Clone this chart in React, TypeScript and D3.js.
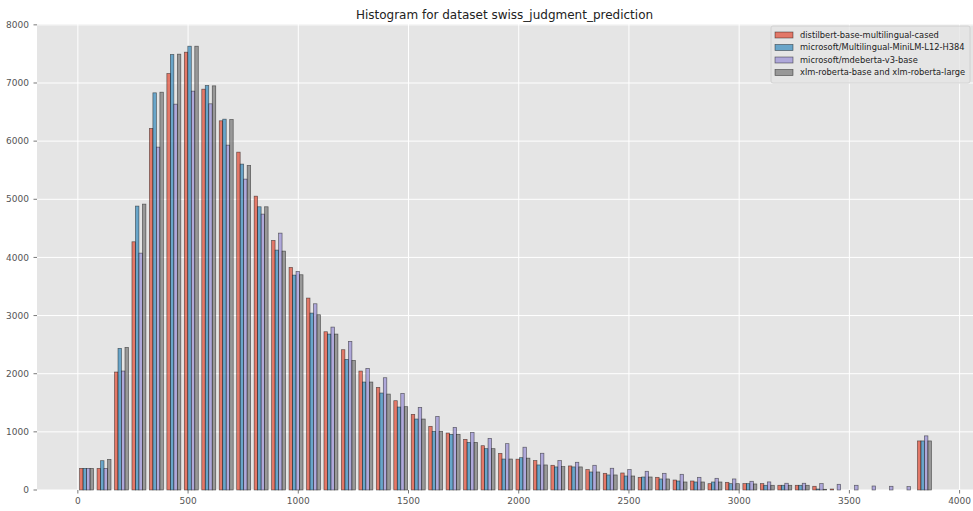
import React from 'react';
import * as d3 from 'd3';

// histogram counts per bin (49 bins over 0..3880 tokens)
const binMin = 0;
const binMax = 3880;
const nBins = 49;

const seriesNames = [
  'distilbert-base-multilingual-cased',
  'microsoft/Multilingual-MiniLM-L12-H384',
  'microsoft/mdeberta-v3-base',
  'xlm-roberta-base and xlm-roberta-large',
];
const seriesColors = ['#E24A33', '#348ABD', '#988ED5', '#777777'];

const distilbert = [
  372, 372, 2029, 4269, 6218, 7163, 7530, 6894, 6350, 5811, 5054, 4292, 3828, 3301, 2722, 2413,
  2046, 1765, 1536, 1301, 1095, 980, 871, 762, 630, 530, 506, 425, 414, 351, 287, 293, 218, 218,
  172, 155, 109, 132, 110, 110, 81, 81, 64, 17, 0, 0, 0, 0, 844,
];
const miniLM = [
  372, 504, 2436, 4883, 6831, 7490, 7633, 6957, 6378, 5605, 4871, 4126, 3696, 3043, 2682, 2246,
  1857, 1668, 1427, 1221, 1009, 957, 819, 711, 533, 556, 431, 397, 397, 310, 259, 241, 224, 190,
  155, 138, 138, 109, 109, 81, 81, 81, 17, 0, 0, 0, 0, 0, 844,
];
const mdeberta = [
  372, 372, 2046, 4074, 5897, 6636, 6860, 6642, 5931, 5347, 4745, 4418, 3759, 3203, 2802, 2556,
  2092, 1931, 1662, 1421, 1266, 1077, 991, 888, 797, 736, 632, 506, 477, 425, 374, 351, 322, 287,
  270, 218, 201, 190, 150, 139, 116, 116, 110, 98, 81, 69, 64, 58, 931,
];
const xlmRoberta = [
  372, 527, 2453, 4917, 6842, 7496, 7633, 6951, 6372, 5582, 4871, 4109, 3702, 3014, 2682, 2229,
  1857, 1650, 1433, 1221, 1009, 957, 819, 711, 533, 548, 431, 402, 397, 310, 259, 241, 224, 190,
  138, 138, 138, 109, 104, 81, 81, 81, 12, 0, 0, 0, 0, 0, 844,
];
const allSeries = [distilbert, miniLM, mdeberta, xlmRoberta];

const xTicks = [0, 500, 1000, 1500, 2000, 2500, 3000, 3500, 4000];
const yTicks = [0, 1000, 2000, 3000, 4000, 5000, 6000, 7000, 8000];

const W = 973;
const H = 511;
const left = 37;
const right = 974;
const top = 24;
const bottom = 490;
const font = 'DejaVu Sans, sans-serif';

export default function App() {
  const bw = (binMax - binMin) / nBins;
  const barW = (0.8 * bw) / allSeries.length;
  const lo = binMin + 0.1 * bw;
  const hi = binMax - 0.1 * bw;
  const pad = 0.05 * (hi - lo);
  const x = d3.scaleLinear().domain([lo - pad, hi + pad]).range([left, right]);
  const yMax = (d3.max(allSeries.flat()) as number) * 1.05;
  const y = d3.scaleLinear().domain([0, yMax]).range([bottom, top]);

  return (
    <svg width={W} height={H} style={{ position: 'absolute', left: 0, top: 0 }} fontFamily={font}>
      <rect x={0} y={0} width={W} height={H} fill="#fff" />
      <rect x={left} y={top} width={right - left} height={bottom - top} fill="#E5E5E5" />
      {/* grid */}
      {xTicks.map((t) => (
        <line key={'gx' + t} x1={x(t)} x2={x(t)} y1={top} y2={bottom} stroke="#fff" strokeWidth={1} />
      ))}
      {yTicks.map((t) => (
        <line key={'gy' + t} x1={left} x2={right} y1={y(t)} y2={y(t)} stroke="#fff" strokeWidth={1} />
      ))}
      {/* bars */}
      {allSeries.map((s, si) => (
        <g key={'s' + si}>
          {s.map((v, i) => {
            if (v <= 0) return null;
            const x0 = binMin + i * bw + 0.1 * bw + si * barW;
            return (
              <rect
                key={i}
                x={x(x0)}
                y={y(v)}
                width={x(x0 + barW) - x(x0)}
                height={y(0) - y(v)}
                fill={seriesColors[si]}
                fillOpacity={0.7}
                stroke="#000"
                strokeOpacity={0.55}
                strokeWidth={0.7}
              />
            );
          })}
        </g>
      ))}
      {/* axes ticks */}
      {xTicks.map((t) => (
        <g key={'xt' + t}>
          <line x1={x(t)} x2={x(t)} y1={bottom} y2={bottom + 3.5} stroke="#555" strokeWidth={0.8} />
          <text x={x(t)} y={bottom + 13.5} fontSize={9} fill="#555" textAnchor="middle">
            {t}
          </text>
        </g>
      ))}
      {yTicks.map((t) => (
        <g key={'yt' + t}>
          <line x1={left - 3.5} x2={left} y1={y(t)} y2={y(t)} stroke="#555" strokeWidth={0.8} />
          <text x={left - 8} y={y(t)} dy="0.35em" fontSize={9} fill="#555" textAnchor="end">
            {t}
          </text>
        </g>
      ))}
      <text x={(left + 972) / 2} y={19} fontSize={12} fill="#222" textAnchor="middle">
        Histogram for dataset swiss_judgment_prediction
      </text>
      {/* legend */}
      <g>
        <rect x={771} y={26} width={199} height={57} rx={2} fill="#E5E5E5" fillOpacity={0.8} stroke="#cccccc" strokeWidth={0.8} />
        {seriesNames.map((n, i) => (
          <g key={n} transform={`translate(775, ${35 + i * 12.5})`}>
            <rect x={0} y={-3} width={18} height={6} fill={seriesColors[i]} fillOpacity={0.7} stroke="#000" strokeOpacity={0.55} strokeWidth={0.7} />
            <text x={25} y={0} dy="0.35em" fontSize={8.3} fill="#222">
              {n}
            </text>
          </g>
        ))}
      </g>
    </svg>
  );
}
